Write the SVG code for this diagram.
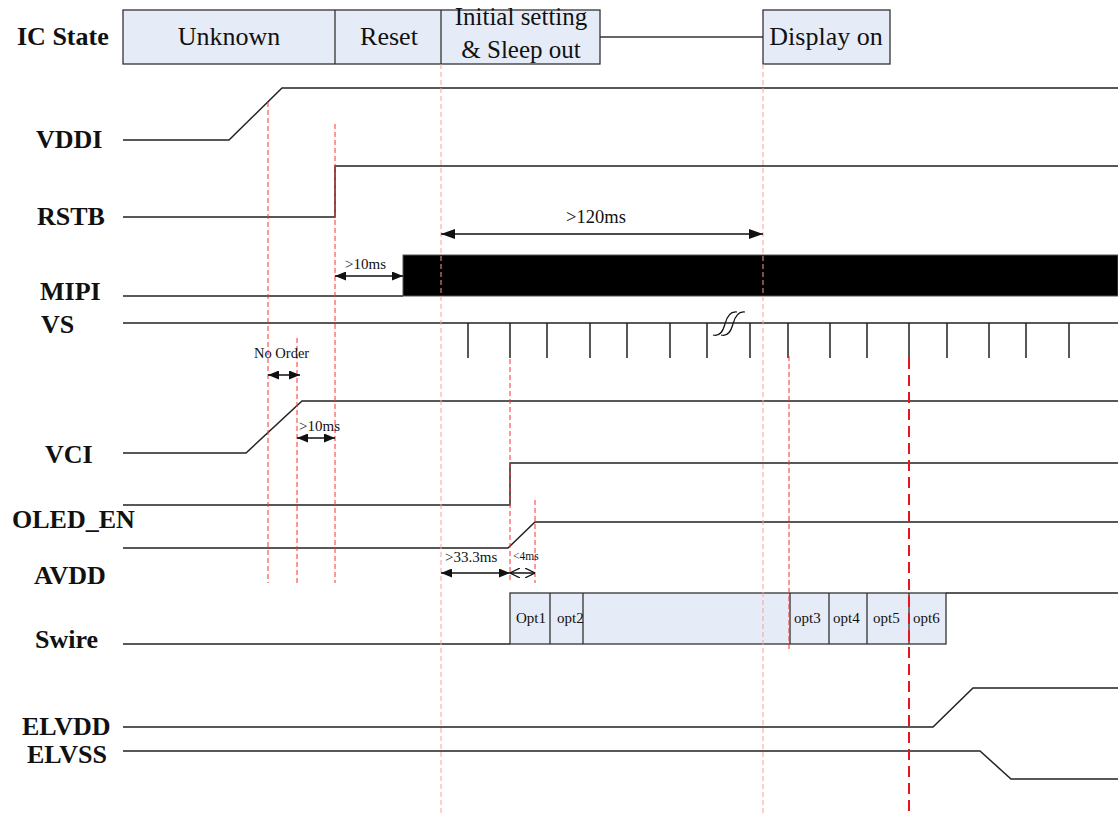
<svg xmlns="http://www.w3.org/2000/svg" width="1118" height="814" viewBox="0 0 1118 814">
<style>
.lbl{font-family:"Liberation Serif","Times New Roman",serif;font-weight:bold;font-size:26px;fill:#111}
.st{font-family:"Liberation Serif","Times New Roman",serif;font-size:26px;fill:#111;text-anchor:middle}
.sm{font-family:"Liberation Serif","Times New Roman",serif;fill:#111}
.sig{fill:none;stroke:#222;stroke-width:1.5}
.box{fill:#e6ecf7;stroke:#333;stroke-width:1.3}
.rd{stroke:#ff3030;stroke-width:1;stroke-dasharray:5,3;fill:none}
.pk{stroke:#f4a0a0;stroke-width:1;stroke-dasharray:5,3;fill:none}
.rdb{stroke:#e8141e;stroke-width:2;stroke-dasharray:11,6;fill:none}
.arr{stroke:#111;stroke-width:1.5;fill:none}
</style>
<defs>
<marker id="ah" viewBox="0 0 14 10" refX="14" refY="5" markerWidth="14" markerHeight="10" orient="auto-start-reverse" markerUnits="userSpaceOnUse"><path d="M0,0 L14,5 L0,10 z" fill="#111"/></marker>
<marker id="ahs" viewBox="0 0 11 9" refX="11" refY="4.5" markerWidth="11" markerHeight="9" orient="auto-start-reverse" markerUnits="userSpaceOnUse"><path d="M0,0 L11,4.5 L0,9 z" fill="#111"/></marker>
<marker id="ao" viewBox="0 0 10 10" refX="10" refY="5" markerWidth="10" markerHeight="10" orient="auto-start-reverse" markerUnits="userSpaceOnUse"><path d="M0,0 L10,5 L0,10" fill="none" stroke="#111" stroke-width="1.2"/></marker>
</defs>

<g id="ic-state">
<text class="lbl" x="17" y="45">IC State</text>
<rect class="box" x="123" y="10" width="477" height="54"/>
<line x1="335" y1="10" x2="335" y2="64" stroke="#333" stroke-width="1.3"/>
<line x1="441" y1="10" x2="441" y2="64" stroke="#333" stroke-width="1.3"/>
<text class="st" x="229" y="45">Unknown</text>
<text class="st" x="389" y="45">Reset</text>
<text class="st" x="521" y="25" style="font-size:25px">Initial setting</text>
<text class="st" x="521" y="58" style="font-size:25px">&amp; Sleep out</text>
<line x1="600" y1="37" x2="763" y2="37" stroke="#333" stroke-width="1.3"/>
<rect class="box" x="763" y="10" width="127" height="54"/>
<text class="st" x="826" y="45">Display on</text>
</g>

<g id="vddi">
<text class="lbl" x="36" y="148">VDDI</text>
<polyline class="sig" points="123,140 229,140 282,88 1118,88"/>
</g>

<g id="rstb">
<text class="lbl" x="37" y="225">RSTB</text>
<polyline class="sig" points="123,217 335,217 335,166 1118,166"/>
</g>

<g id="mipi">
<text class="lbl" x="40" y="300">MIPI</text>
<polyline class="sig" points="123,296 403,296"/>
<rect x="403" y="255" width="715" height="41" fill="#000" stroke="#555" stroke-width="1"/>
</g>

<g id="vs">
<text class="lbl" x="41" y="333">VS</text>
<line class="sig" x1="123" y1="323" x2="1118" y2="323"/>
<path class="sig" d="M468,323V358M510,323V358M547,323V358M590,323V358M627,323V358M670,323V358M707,323V358M750,323V358M788,323V358M830,323V358M867,323V358M909,323V358M947,323V358M989,323V358M1026,323V358M1069,323V358"/>
<path d="M713,335 C720,337 723,331 725,324 C727,316 730,311 737,312 M721,335 C728,337 731,331 733,324 C735,316 738,311 745,312" fill="none" stroke="#111" stroke-width="1.2"/>
</g>

<g id="vci">
<text class="lbl" x="45" y="463">VCI</text>
<polyline class="sig" points="123,453 246,453 302,401 1118,401"/>
</g>

<g id="oled-en">
<text class="lbl" x="12" y="528">OLED_EN</text>
<polyline class="sig" points="123,505 510,505 510,463 1118,463"/>
</g>

<g id="avdd">
<text class="lbl" x="34" y="584">AVDD</text>
<polyline class="sig" points="123,548 508,548 535,522 1118,522"/>
</g>

<g id="swire">
<text class="lbl" x="35" y="648">Swire</text>
<line class="sig" x1="123" y1="644" x2="510" y2="644"/>
<rect class="box" x="510" y="593" width="436" height="51"/>
<path d="M550,593V644M583,593V644M790,593V644M829,593V644M867,593V644M909,593V644" stroke="#333" stroke-width="1.3"/>
<line class="sig" x1="946" y1="593" x2="1118" y2="593"/>
<g class="sm" style="font-size:15px">
<text x="516" y="623">Opt1</text>
<text x="557" y="623">opt2</text>
<text x="794" y="623">opt3</text>
<text x="833" y="623">opt4</text>
<text x="873" y="623">opt5</text>
<text x="913" y="623">opt6</text>
</g>
</g>

<g id="elvdd">
<text class="lbl" x="22" y="735">ELVDD</text>
<polyline class="sig" points="123,727 933,727 973,688 1118,688"/>
</g>

<g id="elvss">
<text class="lbl" x="27" y="763">ELVSS</text>
<polyline class="sig" points="123,751 980,751 1011,779 1118,779"/>
</g>

<g id="connectors">
<line class="rd" x1="268" y1="102" x2="268" y2="583"/>
<line class="rd" x1="335" y1="124" x2="335" y2="583"/>
<line class="pk" x1="441" y1="64" x2="441" y2="814"/>
<line class="pk" x1="763" y1="64" x2="763" y2="814"/>
<line class="rd" x1="297" y1="338" x2="297" y2="583"/>
<line class="rd" x1="510" y1="359" x2="510" y2="583"/>
<line class="rd" x1="535" y1="500" x2="535" y2="583"/>
<line class="rd" x1="789" y1="356" x2="789" y2="650"/>
<line class="rdb" x1="909" y1="358" x2="909" y2="814"/>

<line class="arr" x1="441" y1="234" x2="763" y2="234" marker-start="url(#ah)" marker-end="url(#ah)"/>
<text class="sm" x="596" y="223" style="font-size:18.5px" text-anchor="middle">&gt;120ms</text>

<line class="arr" x1="335" y1="276" x2="403" y2="276" marker-start="url(#ahs)" marker-end="url(#ahs)"/>
<text class="sm" x="345" y="269" style="font-size:15px">&gt;10ms</text>

<line class="arr" x1="268" y1="375" x2="300" y2="375" marker-start="url(#ahs)" marker-end="url(#ahs)"/>
<text class="sm" x="254" y="358" style="font-size:14.5px">No Order</text>

<line class="arr" x1="297" y1="438" x2="335" y2="438" marker-start="url(#ahs)" marker-end="url(#ahs)"/>
<text class="sm" x="299" y="431" style="font-size:15px">&gt;10ms</text>

<line class="arr" x1="441" y1="573" x2="510" y2="573" marker-start="url(#ahs)" marker-end="url(#ahs)"/>
<text class="sm" x="445" y="562" style="font-size:15px">&gt;33.3ms</text>

<line class="arr" x1="510" y1="573" x2="535" y2="573" stroke-width="1.2" marker-start="url(#ao)" marker-end="url(#ao)"/>
<text class="sm" x="513" y="560" style="font-size:11.5px">&lt;4ms</text>
</g>
</svg>
